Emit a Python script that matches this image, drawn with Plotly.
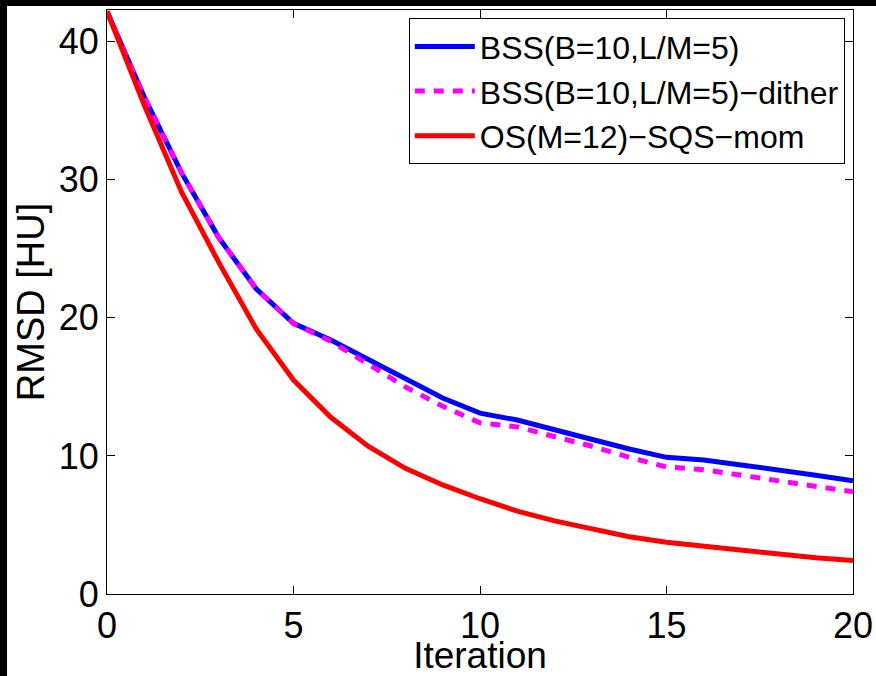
import plotly.graph_objects as go

iterations = list(range(0, 21))
bss = [42.2, 36.0, 30.5, 25.8, 22.1, 19.6, 18.4, 17.0, 15.5, 14.2, 13.1,
       12.6, 11.9, 11.2, 10.5, 9.9, 9.7, 9.35, 9.0, 8.6, 8.2]
bss_dither = [42.2, 36.0, 30.5, 25.8, 22.1, 19.6, 18.3, 16.7, 15.0, 13.6, 12.4,
              12.1, 11.4, 10.7, 9.9, 9.2, 9.0, 8.6, 8.25, 7.85, 7.4]
os_sqs = [42.2, 35.4, 29.1, 24.0, 19.2, 15.5, 12.8, 10.7, 9.1, 7.9, 6.9,
          6.0, 5.3, 4.7, 4.15, 3.75, 3.45, 3.15, 2.85, 2.62, 2.42]
names = ["BSS(B=10,L/M=5)", "BSS(B=10,L/M=5)\u2212dither", "OS(M=12)\u2212SQS\u2212mom"]

font = "Liberation Sans, Arial, Helvetica, sans-serif"

fig = go.Figure()
fig.add_trace(go.Scatter(x=iterations, y=bss, mode="lines", name=names[0],
                         line=dict(color="#0000ff", width=5)))
fig.add_trace(go.Scatter(x=iterations, y=bss_dither, mode="lines", name=names[1],
                         line=dict(color="#ff00ff", width=5, dash="10px,9px")))
fig.add_trace(go.Scatter(x=iterations, y=os_sqs, mode="lines", name=names[2],
                         line=dict(color="#ff0000", width=5)))

# white page with a thin black frame on the top and left edges
fig.add_shape(type="rect", xref="paper", yref="paper",
              x0=-0.134, x1=1.05, y0=-0.16, y1=1.007,
              fillcolor="white", line=dict(width=0), layer="below")

axis_common = dict(showgrid=False, zeroline=False, showline=True, linecolor="black",
                   linewidth=1, mirror="ticks", ticks="inside", ticklen=8,
                   tickcolor="black", automargin=False,
                   tickfont=dict(size=36, color="black", family=font))

fig.update_xaxes(range=[0, 20], tickvals=[0, 5, 10, 15, 20],
                 title=dict(text="Iteration", font=dict(size=37, color="black", family=font),
                            standoff=2),
                 **axis_common)
fig.update_yaxes(range=[0, 42.3], tickvals=[0, 10, 20, 30, 40],
                 title=dict(text="RMSD [HU]", font=dict(size=38, color="black", family=font),
                            standoff=2),
                 **axis_common)

fig.update_layout(
    width=876, height=676,
    margin=dict(l=107, r=23, t=10, b=82),
    paper_bgcolor="black", plot_bgcolor="white",
    font=dict(family=font, color="black"),
    legend=dict(x=0.989, y=0.986, xanchor="right", yanchor="top",
                bgcolor="white", bordercolor="black", borderwidth=1,
                font=dict(size=32, color="black", family=font),
                tracegroupgap=0, itemwidth=60),
)

# drop the default page margin so the figure sits at the window corner
fig.write_html("out.html", config={"displayModeBar": False},
               post_script="document.body.style.margin='0px';"
                           "document.body.style.overflow='hidden';")
